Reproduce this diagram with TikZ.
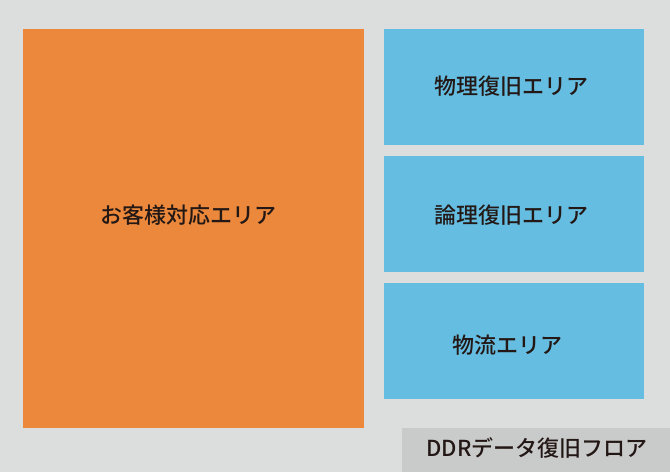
\documentclass[tikz,border=0pt]{standalone}
\usepackage{fontspec}
\newfontfamily\jp{Noto Sans CJK JP Medium}
\definecolor{bgc}{HTML}{DCDDDD}
\definecolor{orangec}{HTML}{EB883B}
\definecolor{bluec}{HTML}{65BEE1}
\definecolor{labelc}{HTML}{C9CACA}
\definecolor{txtc}{HTML}{231815}
\begin{document}
\begin{tikzpicture}[x=1pt,y=-1pt,
  lbl/.style={font=\jp\fontsize{22}{22}\selectfont,text=txtc,inner sep=0pt}]
\fill[bgc] (0,0) rectangle (670,472);
\useasboundingbox (0,0) rectangle (670,472);
\fill[orangec] (23,29) rectangle (364,428);
\fill[bluec] (384,29) rectangle (644,145);
\fill[bluec] (384,156) rectangle (644,272);
\fill[bluec] (384,283) rectangle (644,399);
\fill[labelc] (402,428) rectangle (670,472);
\node[lbl] (t0) at (188,215) {お客様対応エリア};
\node[lbl] (t1) at (511,86) {物理復旧エリア};
\node[lbl] (t2) at (511,215) {論理復旧エリア};
\node[lbl] (t3) at (507,345) {物流エリア};
\node[lbl] (t4) at (537,448) {DDRデータ復旧フロア};
\end{tikzpicture}
\end{document}
